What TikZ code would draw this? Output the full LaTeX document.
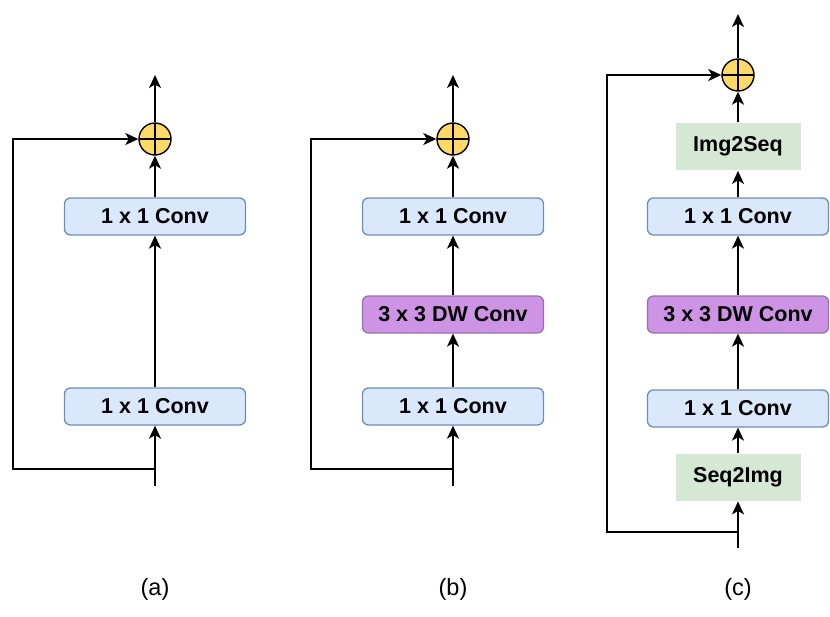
\documentclass[tikz,border=0pt]{standalone}
\usepackage{fontspec}
\setmainfont{Liberation Sans}
\usetikzlibrary{arrows.meta}
\definecolor{bfill}{HTML}{DAE8FC}
\definecolor{bdraw}{HTML}{6C8EBF}
\definecolor{pfill}{HTML}{CD94E6}
\definecolor{pdraw}{HTML}{9673A6}
\definecolor{gfill}{HTML}{D5E8D4}
\definecolor{yfill}{HTML}{FFD966}
\begin{document}
\begin{tikzpicture}[x=1pt,y=-1pt,
  line width=1.8pt,
  >={Stealth[length=13pt,width=12pt,inset=3.5pt]},
  conv/.style={draw=bdraw,fill=bfill,rounded corners=6pt,line width=1.3pt,minimum width=181pt,minimum height=37pt,font=\fontsize{21.5}{24}\selectfont\bfseries,inner sep=0pt},
  dwconv/.style={conv,draw=pdraw,fill=pfill},
  seqbox/.style={fill=gfill,minimum width=125pt,minimum height=47pt,font=\fontsize{21.5}{24}\selectfont\bfseries,inner sep=0pt},
  plusnode/.style={circle,draw=black,fill=yfill,line width=1.4pt,minimum size=32pt,inner sep=0pt,
    path picture={\draw[line width=1.4pt] (path picture bounding box.north) -- (path picture bounding box.south)
      (path picture bounding box.west) -- (path picture bounding box.east);}},
  captxt/.style={font=\fontsize{23.5}{26}\selectfont},
  conn/.style={->}
]
\useasboundingbox (0,0) rectangle (830,616);
% ---------- (a)
\node[plusnode] (pa) at (155,139) {};
\node[conv] (a2) at (155,216.5) {1 x 1 Conv};
\node[conv] (a1) at (155,406.5) {1 x 1 Conv};
\coordinate (ain) at (155,486);
\coordinate (aj) at (155,469);
\coordinate (aout) at (155,75);
\coordinate (al1) at (13,469);
\coordinate (al2) at (13,139);
\draw[conn] (ain) -- (a1);
\draw[conn] (a1) -- (a2);
\draw[conn] (a2) -- (pa);
\draw[conn] (pa) -- (aout);
\draw[conn] (aj) -- (al1) -- (al2) -- (pa);
\node[captxt] (la) at (155,589) {(a)};
% ---------- (b)
\node[plusnode] (pb) at (453,139) {};
\node[conv] (b3) at (453,216.5) {1 x 1 Conv};
\node[dwconv] (b2) at (453,314.5) {3 x 3 DW Conv};
\node[conv] (b1) at (453,406.5) {1 x 1 Conv};
\coordinate (bin) at (453,486);
\coordinate (bj) at (453,469);
\coordinate (bout) at (453,75);
\coordinate (bl1) at (311,469);
\coordinate (bl2) at (311,139);
\draw[conn] (bin) -- (b1);
\draw[conn] (b1) -- (b2);
\draw[conn] (b2) -- (b3);
\draw[conn] (b3) -- (pb);
\draw[conn] (pb) -- (bout);
\draw[conn] (bj) -- (bl1) -- (bl2) -- (pb);
\node[captxt] (lb) at (453,589) {(b)};
% ---------- (c)
\node[plusnode] (pc) at (738,75) {};
\node[seqbox] (c5) at (738,146.5) {Img2Seq};
\node[conv] (c4) at (738,216.5) {1 x 1 Conv};
\node[dwconv] (c3) at (738,314.5) {3 x 3 DW Conv};
\node[conv] (c2) at (738,408.5) {1 x 1 Conv};
\node[seqbox] (c1) at (738,477) {Seq2Img};
\coordinate (cin) at (738,548);
\coordinate (cj) at (738,532);
\coordinate (cout) at (738,14);
\coordinate (cl1) at (607,532);
\coordinate (cl2) at (607,75);
\draw[conn] (cin) -- (c1);
\draw[conn] (c1) -- (c2);
\draw[conn] (c2) -- (c3);
\draw[conn] (c3) -- (c4);
\draw[conn] (c4) -- (c5);
\draw[conn] (c5) -- (pc);
\draw[conn] (pc) -- (cout);
\draw[conn] (cj) -- (cl1) -- (cl2) -- (pc);
\node[captxt] (lc) at (738,589) {(c)};
\end{tikzpicture}
\end{document}
